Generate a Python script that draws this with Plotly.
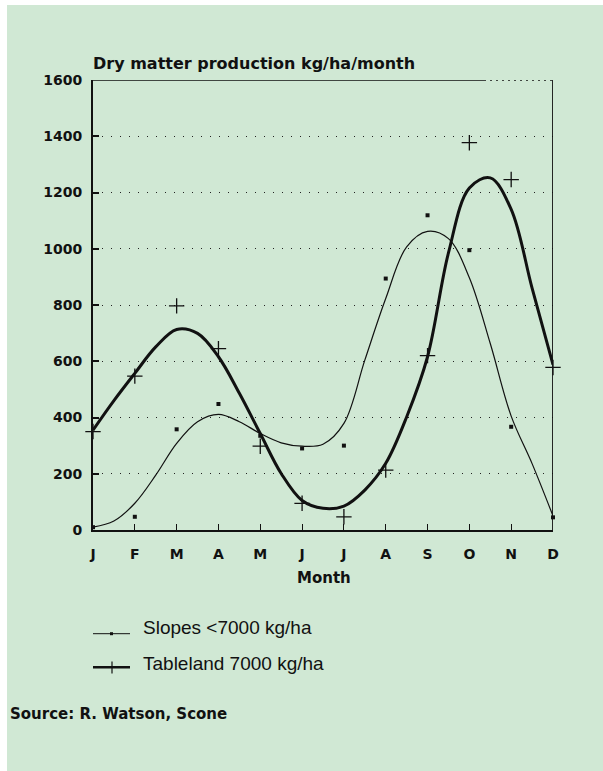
import plotly.graph_objects as go

# ---------------- data ----------------
months = ['J', 'F', 'M', 'A', 'M', 'J', 'J', 'A', 'S', 'O', 'N', 'D']
month_pos = [0, 1, 2, 3, 4, 5, 6, 7, 8, 9, 10, 11]

# observed monthly values
slopes_obs = [10, 47, 358, 448, 335, 290, 300, 894, 1119, 995, 367, 45]
tableland_obs = [350, 547, 797, 645, 298, 95, 47, 213, 620, 1377, 1246, 578]

# fitted curves, read at half-month positions
curve_pos = [0, 0.5, 1, 1.5, 2, 2.5, 3, 3.5, 4, 4.5, 5, 5.5,
             6, 6.5, 7, 7.5, 8, 8.5, 9, 9.5, 10, 10.5, 11]
slopes_fit = [10, 32, 95, 195, 308, 385, 411, 385, 343, 310, 298, 305,
              379, 604, 823, 1007, 1062, 1036, 897, 663, 405, 236, 50]
tableland_fit = [355, 460, 557, 651, 713, 699, 616, 486, 343, 201, 105, 77,
                 85, 142, 237, 402, 616, 985, 1216, 1252, 1140, 860, 588]

y_ticks = [0, 200, 400, 600, 800, 1000, 1200, 1400, 1600]

BG = '#d0e8d4'
INK = '#111111'
TICK_FONT = dict(family='DejaVu Sans', size=14, color=INK, weight='bold')

fig = go.Figure()

fig.add_trace(go.Scatter(x=curve_pos, y=slopes_fit, mode='lines',
                         line=dict(color=INK, width=1.2, shape='spline', smoothing=1.0),
                         hoverinfo='skip', showlegend=False, cliponaxis=False))
fig.add_trace(go.Scatter(x=curve_pos, y=tableland_fit, mode='lines',
                         line=dict(color=INK, width=3, shape='spline', smoothing=1.0),
                         hoverinfo='skip', showlegend=False, cliponaxis=False))
fig.add_trace(go.Scatter(x=month_pos, y=slopes_obs, mode='markers',
                         marker=dict(symbol='square', size=4, color=INK),
                         name='Slopes <7000 kg/ha', showlegend=False, cliponaxis=False))
fig.add_trace(go.Scatter(x=month_pos, y=tableland_obs, mode='markers',
                         marker=dict(symbol='cross-thin', size=11,
                                     line=dict(color=INK, width=1.3)),
                         name='Tableland 7000 kg/ha', showlegend=False, cliponaxis=False))

# plot-area frame: top (solid then dotted) and right
fig.add_shape(type='line', xref='x', yref='y', x0=0, x1=9.35, y0=1600, y1=1600,
              line=dict(color=INK, width=1.5))
fig.add_shape(type='line', xref='x', yref='y', x0=9.35, x1=11, y0=1600, y1=1600,
              line=dict(color=INK, width=1.5, dash='2px,4px'))
fig.add_shape(type='line', xref='x', yref='y', x0=11, x1=11, y0=0, y1=1600,
              line=dict(color=INK, width=1.8))


# helpers: screen pixel -> paper coordinates of the plot area (93..553, 80..530)
def px_x(p):
    return (p - 93) / 460


def px_y(p):
    return (530 - p) / 450


# white scan margins (left 7px, top 5px)
fig.add_shape(type='rect', xref='paper', yref='paper', x0=px_x(-2), x1=px_x(7),
              y0=px_y(775), y1=px_y(-2), fillcolor='white', line=dict(width=0), layer='below')
fig.add_shape(type='rect', xref='paper', yref='paper', x0=px_x(-2), x1=px_x(605),
              y0=px_y(5), y1=px_y(-2), fillcolor='white', line=dict(width=0), layer='below')

# manual legend
fig.add_shape(type='line', xref='paper', yref='paper', x0=px_x(93), x1=px_x(130),
              y0=px_y(633.7), y1=px_y(633.7), line=dict(color=INK, width=1))
fig.add_shape(type='rect', xref='paper', yref='paper', x0=px_x(110), x1=px_x(113),
              y0=px_y(635.2), y1=px_y(632.2), fillcolor=INK, line=dict(width=0))
fig.add_shape(type='line', xref='paper', yref='paper', x0=px_x(93), x1=px_x(130),
              y0=px_y(667.3), y1=px_y(667.3), line=dict(color=INK, width=2.5))
fig.add_shape(type='line', xref='paper', yref='paper', x0=px_x(112), x1=px_x(112),
              y0=px_y(661.5), y1=px_y(673.5), line=dict(color=INK, width=1.2))

LEG_FONT = dict(family='Liberation Sans', size=19, color=INK)
fig.add_annotation(xref='paper', yref='paper', x=px_x(141), y=px_y(627),
                   xanchor='left', yanchor='middle', showarrow=False,
                   text='Slopes &lt;7000 kg/ha', font=LEG_FONT)
fig.add_annotation(xref='paper', yref='paper', x=px_x(141), y=px_y(663),
                   xanchor='left', yanchor='middle', showarrow=False,
                   text='Tableland 7000 kg/ha', font=LEG_FONT)

# titles
fig.add_annotation(xref='paper', yref='paper', x=px_x(91), y=px_y(63.5),
                   xanchor='left', yanchor='middle', showarrow=False,
                   text='Dry matter production kg/ha/month',
                   font=dict(family='DejaVu Sans', size=16, color=INK, weight='bold'))
fig.add_annotation(xref='paper', yref='paper', x=px_x(324), y=px_y(577.5),
                   xanchor='center', yanchor='middle', showarrow=False,
                   text='Month',
                   font=dict(family='DejaVu Sans', size=15, color=INK, weight='bold'))
fig.add_annotation(xref='paper', yref='paper', x=px_x(8), y=px_y(714),
                   xanchor='left', yanchor='middle', showarrow=False,
                   text='Source: R. Watson, Scone',
                   font=dict(family='DejaVu Sans', size=15, color=INK, weight='bold'))

fig.update_xaxes(range=[0, 11], tickvals=month_pos, ticktext=months,
                 showgrid=False, zeroline=False,
                 showline=True, linecolor=INK, linewidth=1.8,
                 ticks='inside', ticklen=6, tickcolor=INK, tickwidth=1,
                 ticklabelstandoff=10, tickfont=TICK_FONT, fixedrange=True)
fig.update_yaxes(range=[0, 1600], tickvals=y_ticks,
                 showgrid=True, gridcolor='#222222', gridwidth=1, griddash='1px,8px',
                 zeroline=False,
                 showline=True, linecolor=INK, linewidth=1.8,
                 ticks='inside', ticklen=6, tickcolor=INK, tickwidth=1.5,
                 ticklabelstandoff=6, tickfont=TICK_FONT, fixedrange=True)

W, H = 603, 771
fig.update_layout(width=W, height=H,
                  margin=dict(l=93, r=W - 553, t=80, b=H - 530, pad=0),
                  paper_bgcolor=BG, plot_bgcolor=BG,
                  showlegend=False)

# remove the browser's default 8px page margin so the figure fills the window
fig.write_html('out.html',
               config={'displayModeBar': False},
               post_script="document.body.style.margin='0';"
                           "document.body.style.overflow='hidden';")
